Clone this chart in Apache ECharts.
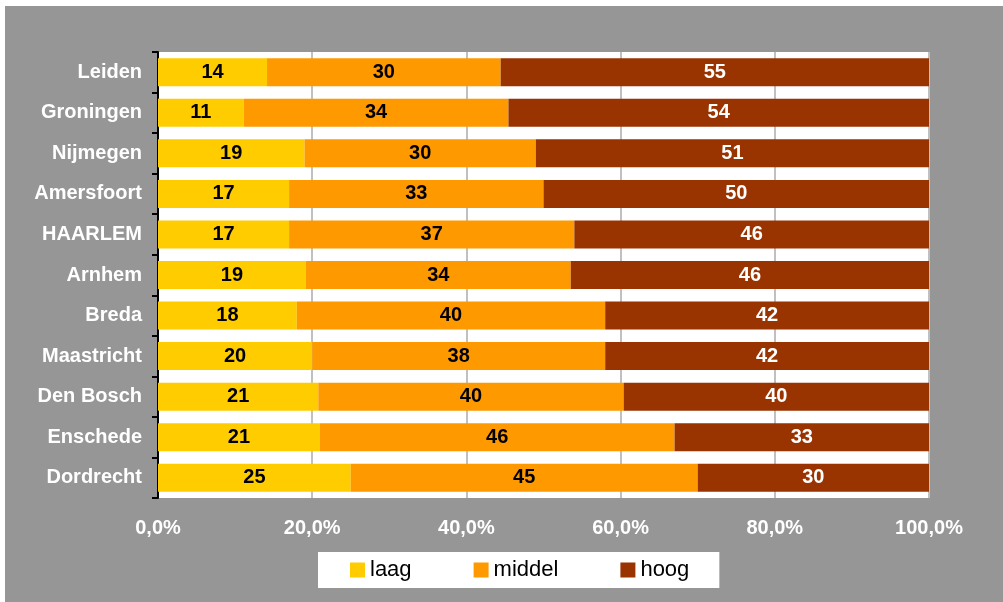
<!DOCTYPE html>
<html>
<head>
<meta charset="utf-8">
<script src="https://cdn.jsdelivr.net/npm/echarts@6/dist/echarts.min.js"></script>
<style>
html,body{margin:0;padding:0;background:#fff;width:1003px;height:602px;overflow:hidden;}
#chart{position:absolute;left:5px;top:6px;width:998px;height:596px;background:#969696;}
</style>
</head>
<body>
<div id="chart"></div>
<script>
var categories = ['Leiden','Groningen','Nijmegen','Amersfoort','HAARLEM','Arnhem','Breda','Maastricht','Den Bosch','Enschede','Dordrecht'];
var laag   = [14, 11, 19, 17, 17, 19, 18, 20, 21, 21, 25];
var middel = [30, 34, 30, 33, 37, 34, 40, 38, 40, 46, 45];
var hoog   = [55, 54, 51, 50, 46, 46, 42, 42, 40, 33, 30];
var seriesNames = ['laag', 'middel', 'hoog'];
var tickValues = [0, 20, 40, 60, 80, 100];

var raw = [laag, middel, hoog];
var totals = categories.map(function(c, i){ return laag[i] + middel[i] + hoog[i]; });
function pct(arr){ return arr.map(function(v, i){ return {value: v / totals[i] * 100, raw: v}; }); }

var colors = ['#FFCC00', '#FF9900', '#993300'];
var labelColors = ['#000', '#000', '#fff'];
var FONT = '"Liberation Sans", Arial, sans-serif';

var chart = echarts.init(document.getElementById('chart'), null, {renderer: 'canvas'});
var series = seriesNames.map(function(name, k){
  return {
    name: name,
    type: 'bar',
    stack: 'total',
    barWidth: 28,
    data: pct(raw[k]),
    itemStyle: {color: colors[k]},
    label: {
      show: true,
      position: 'inside',
      color: labelColors[k],
      fontFamily: FONT,
      fontWeight: 'bold',
      fontSize: 20,
      formatter: function(p){ return p.data.raw; }
    },
    emphasis: {disabled: true}
  };
});

chart.setOption({
  animation: false,
  textStyle: {fontFamily: FONT},
  grid: {
    left: 153, right: 74, top: 46, bottom: 104,
    show: true, backgroundColor: '#ffffff', borderWidth: 0
  },
  xAxis: {
    type: 'value',
    min: 0, max: 100, interval: 20,
    axisLine: {show: false},
    axisTick: {show: false},
    splitLine: {show: true, lineStyle: {color: '#c0c0c0', width: 2}},
    axisLabel: {
      color: '#fff', fontWeight: 'bold', fontSize: 20, fontFamily: FONT, margin: 20,
      formatter: function(v){ return tickValues.indexOf(v) >= 0 ? v + ',0%' : ''; }
    }
  },
  yAxis: {
    type: 'category',
    inverse: true,
    data: categories,
    axisLine: {show: true, lineStyle: {color: '#000', width: 2}},
    axisTick: {show: true, length: 6, inside: false, lineStyle: {color: '#000', width: 2}},
    axisLabel: {color: '#fff', fontWeight: 'bold', fontSize: 20, fontFamily: FONT, margin: 16},
    splitLine: {show: false}
  },
  legend: {
    data: seriesNames,
    left: 313, top: 546,
    orient: 'horizontal',
    backgroundColor: '#ffffff',
    padding: [7, 30, 7, 32],
    itemWidth: 15, itemHeight: 15,
    itemGap: 62,
    icon: 'rect',
    textStyle: {color: '#000', fontSize: 22, fontFamily: FONT},
    selectedMode: false
  },
  series: series
});
</script>
</body>
</html>
